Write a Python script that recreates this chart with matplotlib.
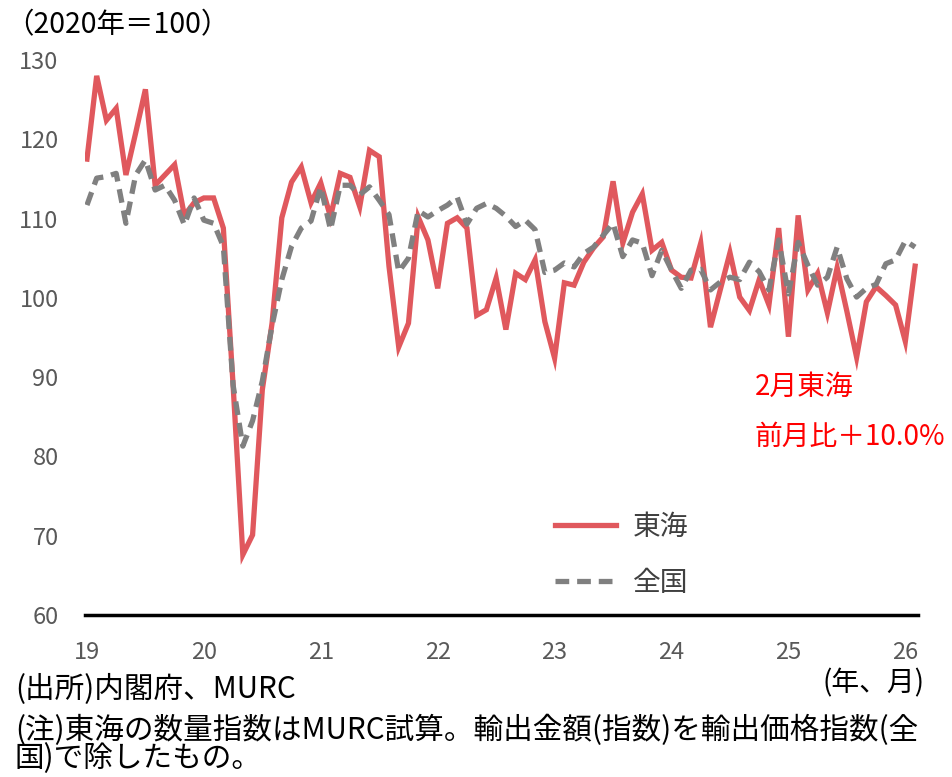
import matplotlib
matplotlib.use("Agg")
import matplotlib.pyplot as plt
from matplotlib.lines import Line2D

plt.rcParams['font.family'] = ['Noto Sans CJK JP', 'DejaVu Sans']

# monthly data, 2019-01 .. 2026-02
tokai = [117.5, 128.0, 122.4, 123.9, 115.5, 120.8, 126.3, 114.2, 115.5, 116.8, 110.4, 112.0,
         112.6, 112.6, 108.8, 89.0, 67.6, 70.1, 88.4, 96.8, 110.1, 114.6, 116.5, 112.0,
         114.5, 110.2, 115.7, 115.2, 111.5, 118.6, 117.8, 104.0, 93.8, 96.8, 110.2, 107.3,
         101.2, 109.4, 110.1, 108.8, 97.8, 98.5, 102.5, 96.0, 103.1, 102.3, 104.8, 97.0,
         92.4, 101.9, 101.6, 104.5, 106.3, 107.7, 114.7, 106.9, 110.8, 113.1, 106.0, 107.0,
         103.5, 102.6, 102.5, 106.9, 96.3, 101.0, 105.7, 100.1, 98.4, 102.3, 99.1, 108.8,
         95.1, 110.4, 101.0, 103.1, 98.1, 103.8, 98.3, 92.5, 99.5, 101.4, 100.3, 99.1,
         94.5, 104.0]
zenkoku = [111.7, 115.1, 115.3, 115.7, 109.4, 115.5, 117.4, 113.6, 114.2, 112.3, 109.2, 112.6,
           109.8, 109.4, 106.5, 89.0, 81.3, 84.5, 89.5, 96.5, 102.3, 106.5, 108.8, 109.7,
           114.0, 108.6, 114.2, 114.2, 113.0, 114.0, 112.3, 110.5, 103.3, 105.0, 111.0, 110.2,
           111.0, 111.7, 112.7, 109.3, 111.3, 111.9, 111.3, 110.3, 109.0, 109.8, 108.6, 103.2,
           103.5, 104.4, 103.9, 105.6, 106.4, 107.9, 109.4, 105.2, 107.3, 106.9, 102.8, 106.0,
           103.5, 101.2, 103.5, 103.6, 101.0, 102.0, 102.6, 102.3, 104.5, 103.3, 101.0, 107.3,
           100.5, 107.0, 104.1, 101.6, 102.6, 106.4, 102.4, 100.1, 101.2, 101.7, 104.3, 104.8,
           107.2, 106.4]
year_labels = ['19', '20', '21', '22', '23', '24', '25', '26']
y_ticks = [60, 70, 80, 90, 100, 110, 120, 130]
series_names = ['東海', '全国']

RED = '#E0585D'
GRAY = '#808080'
TICK = '#595959'

fig = plt.figure(figsize=(9.53, 7.77), dpi=100)
ax = fig.add_axes([85 / 953, 1 - 615 / 777, 833 / 953, 555 / 777])

x = list(range(len(tokai)))
ax.plot(x, tokai, color=RED, lw=3.8, solid_joinstyle='miter', zorder=2, label=series_names[0])
ax.plot(x, zenkoku, color=GRAY, lw=3.8, linestyle=(0, (2.6, 1.5)), dash_capstyle='butt',
        zorder=3, label=series_names[1])

ax.set_xlim(-0.2, 85.3)
ax.set_ylim(60, 130)
ax.set_yticks(y_ticks)
ax.set_yticklabels([str(v) for v in y_ticks])
ax.set_xticks([12 * k for k in range(len(year_labels))])
ax.set_xticklabels(year_labels)
ax.tick_params(axis='both', length=0, labelsize=17, colors=TICK)
ax.tick_params(axis='y', pad=19)
ax.tick_params(axis='x', pad=19)
for s in ['left', 'right', 'top']:
    ax.spines[s].set_visible(False)
ax.spines['bottom'].set_color('black')
ax.spines['bottom'].set_linewidth(2.5)

handles = [Line2D([], [], color=RED, lw=3.8),
           Line2D([], [], color=GRAY, lw=3.8, linestyle=(0, (2.6, 1.5)))]
leg = fig.legend(handles, series_names, loc='center', bbox_to_anchor=(622 / 953, 1 - 555 / 777),
                 frameon=False, fontsize=20, handlelength=2.2, handletextpad=0.6,
                 labelspacing=0.95, labelcolor='#404040')

fig.text(5 / 953, 1 - 25 / 777, '（2020年＝100）', fontsize=20.5, ha='left', va='center', color='black')
fig.text(755 / 953, 1 - 387 / 777, '2月東海', fontsize=20, ha='left', va='center', color='#FF0000')
fig.text(755 / 953, 1 - 437 / 777, '前月比＋10.0%', fontsize=20, ha='left', va='center', color='#FF0000')
fig.text(925 / 953, 1 - 683 / 777, '(年、月)', fontsize=20, ha='right', va='center', color='black')
fig.text(15 / 953, 1 - 689 / 777, '(出所)内閣府、MURC', fontsize=21.3, ha='left', va='center', color='black')
fig.text(15 / 953, 1 - 730 / 777, '(注)東海の数量指数はMURC試算。輸出金額(指数)を輸出価格指数(全',
         fontsize=21.3, ha='left', va='center', color='black')
fig.text(15 / 953, 1 - 759 / 777, '国)で除したもの。', fontsize=21.3, ha='left', va='center', color='black')

fig.savefig('out.png', dpi=100)
